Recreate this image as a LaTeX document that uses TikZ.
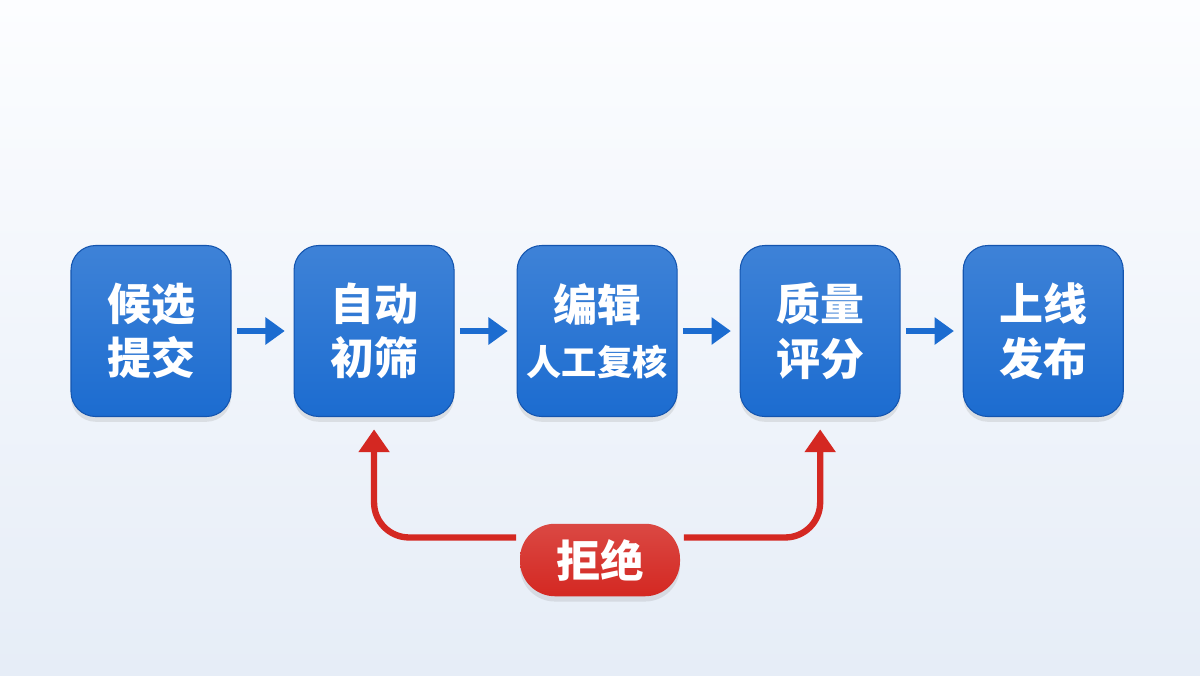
\documentclass[tikz,border=0pt]{standalone}
\usepackage{fontspec}
\setmainfont{Noto Sans CJK SC}
\usepackage{tikz}
\usetikzlibrary{positioning, arrows.meta, calc, shadows}
\definecolor{stepblue}{RGB}{28,108,208}
\definecolor{stepblueedge}{RGB}{20,85,175}
\definecolor{rejectred}{RGB}{212,40,34}
\definecolor{bgtop}{RGB}{252,253,255}
\definecolor{bgbot}{RGB}{230,237,247}
\tikzstyle{stage} = [rectangle, rounded corners=14pt, minimum width=3.2cm, minimum height=3.42cm, align=center, text=white, font=\bfseries\fontsize{25}{31}\selectfont, draw=stepblueedge, line width=0.6pt, top color=stepblue!85!white, bottom color=stepblue, drop shadow={opacity=0.18, shadow xshift=0pt, shadow yshift=-3pt}]
\tikzstyle{reject} = [rectangle, rounded corners=0.7cm, minimum width=3.2cm, minimum height=1.45cm, text=white, font=\bfseries\fontsize{25}{31}\selectfont, top color=rejectred!85!white, bottom color=rejectred, drop shadow={opacity=0.18, shadow xshift=0pt, shadow yshift=-3pt}]
\tikzstyle{arrow} = [line width=3.2pt, stepblue, -{Triangle[length=11pt, width=15pt]}]
\tikzstyle{back} = [line width=3.6pt, rejectred, rounded corners=0.7cm, -{Triangle[length=13pt, width=17pt]}]

\begin{document}
\begin{tikzpicture}[node distance=1.24cm]
\shade[top color=bgtop, bottom color=bgbot] (0,0) rectangle (24,-13.5);
\useasboundingbox (0,0) rectangle (24,-13.5);
\node (submit) [stage] at (3.02,-6.62) {候选\\提交};
\node (screen) [stage, right=of submit] {自动\\初筛};
\node (review) [stage, right=of screen] {编辑\\{\fontsize{20}{26}\selectfont 人工复核}};
\node (score) [stage, right=of review] {质量\\评分};
\node (publish) [stage, right=of score] {上线\\发布};
\node (rejected) [reject] at (12,-11.2) {拒绝};

\draw [arrow] ([xshift=3pt]submit.east) -- ([xshift=-5pt]screen.west);
\draw [arrow] ([xshift=3pt]screen.east) -- ([xshift=-5pt]review.west);
\draw [arrow] ([xshift=3pt]review.east) -- ([xshift=-5pt]score.west);
\draw [arrow] ([xshift=3pt]score.east) -- ([xshift=-5pt]publish.west);
\draw [back] ([xshift=-2pt,yshift=-8pt]rejected.north west) -| ([yshift=-7pt]screen.south);
\draw [back] ([xshift=2pt,yshift=-8pt]rejected.north east) -| ([yshift=-7pt]score.south);
\end{tikzpicture}
\end{document}
